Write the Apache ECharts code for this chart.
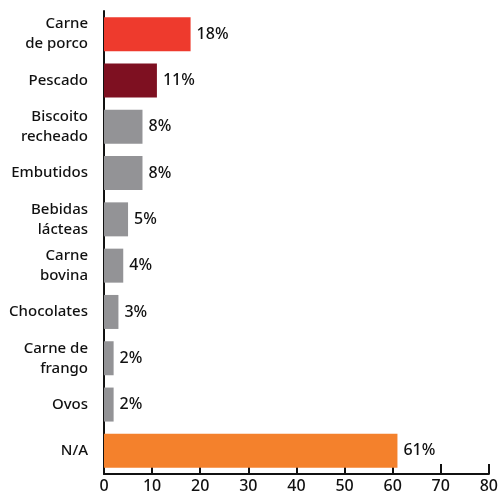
<!DOCTYPE html>
<html>
<head>
<meta charset="utf-8">
<script src="https://cdn.jsdelivr.net/npm/echarts@6/dist/echarts.min.js"></script>
<style>
  html, body { margin: 0; padding: 0; background: #fff; }
  #chart { width: 501px; height: 496px; }
</style>
</head>
<body>
<div id="chart"></div>
<script>
// Categories top to bottom
const categories = [
  'Carne\nde porco', 'Pescado', 'Biscoito\nrecheado', 'Embutidos', 'Bebidas\nlácteas',
  'Carne\nbovina', 'Chocolates', 'Carne de\nfrango', 'Ovos', 'N/A'
];
const values = [18, 11, 8, 8, 5, 4, 3, 2, 2, 61];
const barColors = ['#EE3A2D', '#7E1021', '#939396', '#939396', '#939396',
                   '#939396', '#939396', '#939396', '#939396', '#F4812C'];
const xTicks = [0, 10, 20, 30, 40, 50, 60, 70, 80];

const font = '"Noto Sans", "DejaVu Sans", sans-serif';
const chart = echarts.init(document.getElementById('chart'));
chart.setOption({
  animation: false,
  grid: { left: 104, right: 10, top: 11, bottom: 22, containLabel: false },
  xAxis: {
    type: 'value',
    min: xTicks[0],
    max: xTicks[xTicks.length - 1],
    interval: 10,
    axisLine: { show: true, lineStyle: { color: '#111', width: 2 } },
    axisTick: { show: true, inside: true, length: 10, lineStyle: { color: '#111', width: 2 } },
    axisLabel: { color: '#111', fontSize: 16, fontFamily: font, fontWeight: 500, margin: 4 },
    splitLine: { show: false }
  },
  yAxis: {
    type: 'category',
    inverse: true,
    data: categories,
    axisLine: { show: true, lineStyle: { color: '#111', width: 2 } },
    axisTick: { show: false },
    axisLabel: { color: '#111', fontSize: 15, fontFamily: font, fontWeight: 500, lineHeight: 20, margin: 16, align: 'right' }
  },
  series: [{
    type: 'bar',
    barWidth: 34,
    data: values.map((v, i) => ({ value: v, itemStyle: { color: barColors[i] } })),
    label: {
      show: true,
      position: 'right',
      distance: 6,
      color: '#111',
      fontSize: 16,
      fontFamily: font,
      fontWeight: 500,
      formatter: p => p.value + '%'
    }
  }]
});
</script>
</body>
</html>
